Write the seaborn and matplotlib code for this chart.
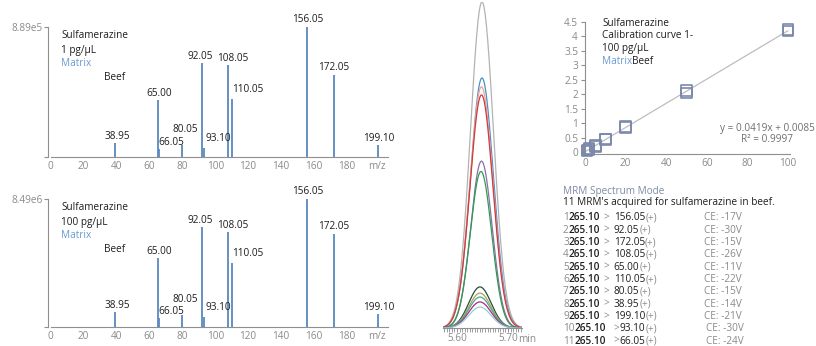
import matplotlib
matplotlib.use("Agg")
import numpy as np
import pandas as pd
import matplotlib.pyplot as plt
import seaborn as sns

sns.set_theme(style="white")
plt.rcParams["font.family"] = ["Open Sans", "DejaVu Sans"]

# ---------------- product-ion spectra ----------------
fragment_mz = [38.95, 65.00, 66.05, 80.05, 92.05, 93.10, 108.05, 110.05, 156.05, 172.05, 199.10]
fragment_labels = ["38.95", "65.00", "66.05", "80.05", "92.05", "93.10",
                   "108.05", "110.05", "156.05", "172.05", "199.10"]
intensity_1pg = [0.11, 0.44, 0.06, 0.09, 0.72, 0.07, 0.71, 0.45, 1.00, 0.63, 0.09]
intensity_100pg = [0.12, 0.54, 0.07, 0.09, 0.78, 0.08, 0.74, 0.50, 1.00, 0.73, 0.10]
spectrum_max = ["8.89e5", "8.49e6"]
spectrum_conc = ["1 pg/µL", "100 pg/µL"]
mz_ticks = [0, 20, 40, 60, 80, 100, 120, 140, 160, 180]

# ---------------- MRM transitions / chromatogram ----------------
precursor_mz = "265.10"
mrm_q3 = ["156.05", "92.05", "172.05", "108.05", "65.00", "110.05",
          "80.05", "38.95", "199.10", "93.10", "66.05"]
mrm_ce = [-17, -30, -15, -26, -11, -22, -15, -14, -21, -30, -24]
mrm_apex = [1.00, 0.767, 0.74, 0.715, 0.512, 0.48, 0.126, 0.107, 0.095, 0.08, 0.064]
mrm_rt = [5.649, 5.649, 5.648, 5.648, 5.648, 5.647, 5.645, 5.645, 5.645, 5.645, 5.645]
mrm_width = [0.0225, 0.0225, 0.0225, 0.0225, 0.021, 0.021, 0.022, 0.022, 0.022, 0.022, 0.022]
rt_ticks = [5.60, 5.70]
rt_tick_labels = ["5.60", "5.70"]

# ---------------- calibration curve ----------------
cal_conc = [1, 1, 2, 2, 5, 5, 10, 10, 20, 20, 50, 50, 100, 100]
cal_response = [0.03, 0.07, 0.08, 0.11, 0.20, 0.23, 0.42, 0.45, 0.84, 0.88, 2.04, 2.12, 4.19, 4.23]
fit_slope = 0.0419
fit_intercept = 0.0085
fit_r2 = 0.9997

# ---------------- styling ----------------
W, H = 816, 346
DARK = "#1e1e1e"
GRAY = "#8a8a8a"
AXIS = "#8f8f8f"
BLUE = "#6b9bd2"
BAR = "#5b88bf"
FS = 7.2
trace_colors = ["#b3b3b3", "#4d8fcc", "#e9a597", "#d23a3a", "#8b6fa6", "#2f9b52",
                "#1f4f44", "#b3a443", "#4ea3a3", "#a3336f", "#93cde3"]
# label nudges (px right, px up from the bar top)
label_nudge = {"38.95": (2, 1), "65.00": (2, 1), "66.05": (12, 1), "80.05": (3, 10),
               "92.05": (-2, 1), "93.10": (14, 4), "108.05": (4, 1), "110.05": (16, 4),
               "156.05": (0, 2), "172.05": (0, 2), "199.10": (0, 1)}


def fx(x):
    return x / W


def fy(y):
    return 1 - y / H


fig = plt.figure(figsize=(W / 100, H / 100), dpi=100)
renderer = fig.canvas.get_renderer()


def text_runs(x_px, y_px, runs, **kw):
    """Write consecutive differently coloured pieces on one shared baseline."""
    x = x_px
    for s, color, gap, weight in runs:
        x += gap
        t = fig.text(fx(x), fy(y_px + 3.5), s, color=color, fontsize=FS, ha="left",
                     va="baseline", fontweight=weight, **kw)
        x = t.get_window_extent(renderer=renderer).x1


def style_spectrum(ax, top_label):
    ax.set_xlim(-1.5, 205)
    ax.set_ylim(0, 1)
    for side in ["top", "right"]:
        ax.spines[side].set_visible(False)
    for side in ["left", "bottom"]:
        ax.spines[side].set_color(AXIS)
        ax.spines[side].set_linewidth(0.8)
    ax.spines["bottom"].set_bounds(0, 205)
    ax.set_yticks([0, 1], ["", top_label])
    ax.set_xticks(mz_ticks + [198], [str(t) for t in mz_ticks] + ["m/z"])
    ax.tick_params(axis="y", length=3, width=0.8, color=AXIS, labelcolor=GRAY,
                   labelsize=FS, pad=1, left=True)
    ax.tick_params(axis="x", length=0, labelcolor=GRAY, labelsize=FS, pad=3)
    ax.set_xlabel("")
    ax.set_ylabel("")


spec_rects = [(157, 130), (327, 128)]
for k, (intens, ymax, conc) in enumerate(zip([intensity_1pg, intensity_100pg],
                                             spectrum_max, spectrum_conc)):
    base, hgt = spec_rects[k]
    ax = fig.add_axes([fx(48.2), fy(base), (388 - 48.2) / W, hgt / H])
    ax.vlines(fragment_mz, 0, intens, color=BAR, linewidth=1.3)
    style_spectrum(ax, ymax)
    for mz, val, lab in zip(fragment_mz, intens, fragment_labels):
        dx, dy = label_nudge[lab]
        ax.annotate(lab, (mz, val), xytext=(dx, dy), textcoords="offset pixels",
                    ha="center", va="bottom", fontsize=FS, color=DARK,
                    annotation_clip=False)
    top = base - hgt
    fig.text(fx(61), fy(top + 9), "Sulfamerazine", fontsize=FS, color=DARK, va="center")
    fig.text(fx(61), fy(top + 23), conc, fontsize=FS, color=DARK, va="center")
    fig.text(fx(61), fy(top + 36), "Matrix", fontsize=FS, color=BLUE, va="center")
    fig.text(fx(104), fy(top + 50), "Beef", fontsize=FS, color=DARK, va="center")

# ---------------- chromatogram ----------------
axc = fig.add_axes([fx(443), fy(328), 79 / W, 326 / H])
t_grid = np.linspace(5.5725, 5.7275, 500)
frames = []
for q3, apex, rt, wd in zip(mrm_q3, mrm_apex, mrm_rt, mrm_width):
    frames.append(pd.DataFrame({
        "time": t_grid,
        "signal": apex * np.exp(-0.5 * ((t_grid - rt) / wd) ** 2),
        "transition": q3,
    }))
chrom = pd.concat(frames, ignore_index=True)
sns.lineplot(data=chrom, x="time", y="signal", hue="transition", hue_order=mrm_q3,
             palette=trace_colors, legend=False, linewidth=0.9, ax=axc)
axc.set_xlim(5.5725, 5.7275)
axc.set_ylim(0, 1.0)
for side in ["top", "right", "left"]:
    axc.spines[side].set_visible(False)
axc.spines["bottom"].set_color(AXIS)
axc.spines["bottom"].set_linewidth(0.8)
axc.set_yticks([])
axc.set_xticks(rt_ticks, rt_tick_labels)
axc.set_xticks(np.arange(5.575, 5.7251, 0.005), minor=True)
axc.tick_params(axis="x", which="major", length=3, width=0.7, color=AXIS,
                labelcolor=GRAY, labelsize=FS, pad=0.5, bottom=True)
axc.tick_params(axis="x", which="minor", length=3, width=0.6, color=AXIS, bottom=True)
axc.set_xlabel("")
axc.set_ylabel("")
fig.text(fx(527), fy(339), "min", fontsize=FS, color=GRAY, ha="center", va="center")

# ---------------- calibration curve ----------------
axk = fig.add_axes([fx(585), fy(154), 205 / W, 132 / H])
sns.lineplot(x=[0, 100], y=[fit_intercept, fit_slope * 100 + fit_intercept],
             color="#bdbdbd", linewidth=0.9, ax=axk)
sns.scatterplot(x=cal_conc, y=cal_response, marker="s", s=60, facecolor="none",
                edgecolor="#7a89ab", linewidth=1.2, ax=axk, zorder=3, clip_on=False)
axk.set_xlim(0, 101)
axk.set_ylim(-0.07, 4.5)
for side in ["top", "right"]:
    axk.spines[side].set_visible(False)
for side in ["left", "bottom"]:
    axk.spines[side].set_color(AXIS)
    axk.spines[side].set_linewidth(0.8)
yt = [0, 0.5, 1, 1.5, 2, 2.5, 3, 3.5, 4, 4.5]
axk.set_yticks(yt, [f"{v:g}" for v in yt])
axk.set_xticks([0, 20, 40, 60, 80, 100])
axk.tick_params(axis="y", length=3, width=0.8, color=AXIS, labelcolor=GRAY,
                labelsize=FS, pad=2, left=True)
axk.tick_params(axis="x", length=0, labelcolor=GRAY, labelsize=FS, pad=3)
axk.set_xlabel("")
axk.set_ylabel("")
fig.text(fx(602), fy(24), "Sulfamerazine", fontsize=FS, color=DARK, va="center")
fig.text(fx(602), fy(36), "Calibration curve 1-", fontsize=FS, color=DARK, va="center")
fig.text(fx(602), fy(48), "100 pg/µL", fontsize=FS, color=DARK, va="center")
text_runs(602, 60, [("Matrix", BLUE, 0, "normal"), ("Beef", DARK, 0, "normal")])
fig.text(fx(815), fy(128), f"y = {fit_slope}x + {fit_intercept}", fontsize=FS,
         color="#6f6f6f", ha="right", va="center")
fig.text(fx(793), fy(139), f"R² = {fit_r2}", fontsize=FS, color="#6f6f6f",
         ha="right", va="center")

# ---------------- MRM list ----------------
fig.text(fx(563), fy(192), "MRM Spectrum Mode", fontsize=FS, color="#7d8ca6", va="center")
fig.text(fx(563), fy(203), "11 MRM's acquired for sulfamerazine in beef.", fontsize=FS,
         color=DARK, va="center")
for i, (q3, ce) in enumerate(zip(mrm_q3, mrm_ce)):
    y = 217 + i * 12.3
    idx = str(i + 1)
    if i < 9:
        runs = [(idx, GRAY, 0, "normal"), (precursor_mz, DARK, 0, "semibold"),
                (">", GRAY, 3, "normal"), (q3, DARK, 5, "normal"), ("(+)", GRAY, 0, "normal")]
    else:
        runs = [(idx, GRAY, 0, "normal"), (precursor_mz, DARK, 0, "semibold"),
                (">", GRAY, 8, "normal"), (q3, DARK, 0, "normal"), ("(+)", GRAY, 0, "normal")]
    text_runs(563, y, runs)
    fig.text(fx(704 if i < 9 else 706), fy(y + 3.5), f"CE: {ce}V", fontsize=FS,
             color=GRAY, va="baseline")

fig.savefig("out.png", dpi=100)
